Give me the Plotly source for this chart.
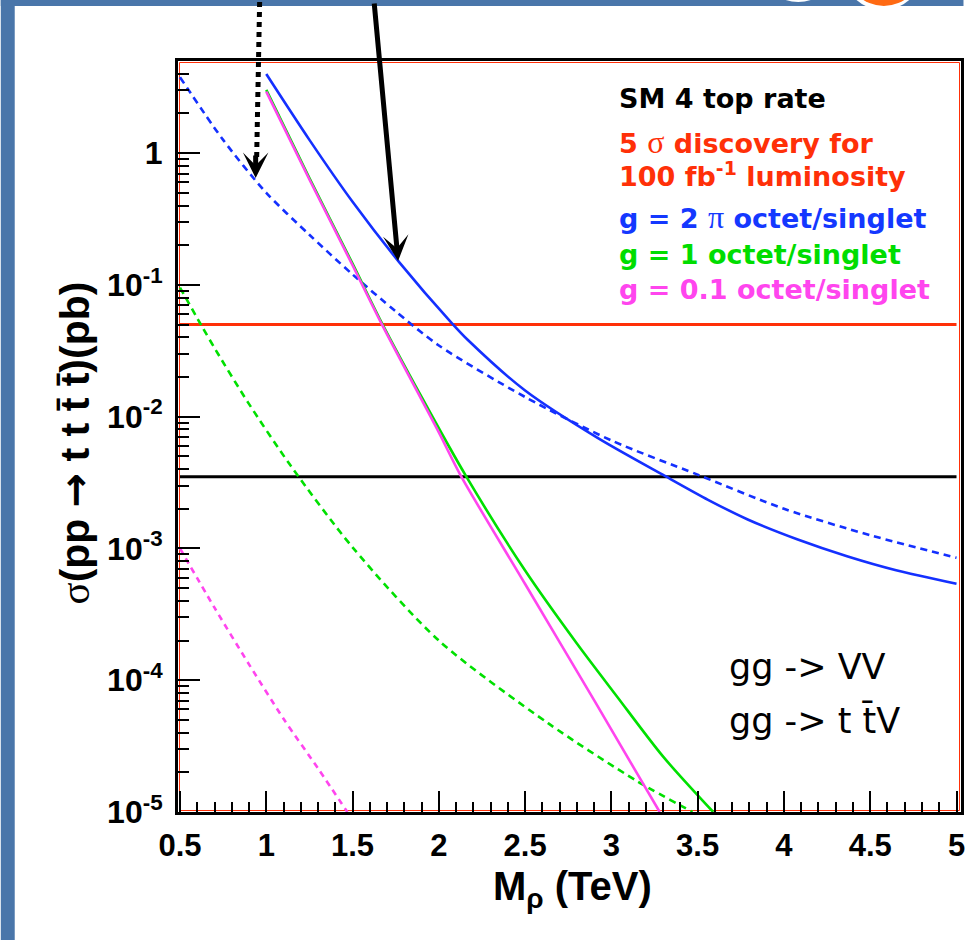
import plotly.graph_objects as go

# ---------------- data ----------------
# g = 2 pi, solid (gg -> VV)
m_blue_solid = [1.0, 1.25, 1.5, 1.77, 2.075, 2.17, 2.5, 2.92, 3.31, 3.56, 3.79, 4.08, 4.37, 4.65, 5.0]
s_blue_solid = [3.98, 1.26, 0.427, 0.149, 0.0513, 0.038, 0.0158, 0.0069, 0.00355, 0.00234, 0.00166,
                0.00117, 0.00087, 0.000684, 0.00054]
# g = 2 pi, dashed (gg -> t tbar V)
m_blue_dash = [0.5, 0.75, 1.0, 1.25, 1.5, 1.75, 2.0, 2.5, 3.0, 3.5, 4.0, 4.5, 5.0]
s_blue_dash = [3.77, 1.26, 0.50, 0.24, 0.12, 0.063, 0.0347, 0.0141, 0.0066, 0.00363, 0.002, 0.00126, 0.00085]
# g = 1, solid
m_green_solid = [1.0, 1.25, 1.5, 1.67, 1.9, 2.156, 2.5, 2.8, 3.03, 3.3, 3.59]
s_green_solid = [3.02, 0.646, 0.145, 0.0513, 0.0141, 0.00357, 6.8e-4, 1.9e-4, 7.6e-5, 2.63e-5, 1.0e-5]
# g = 1, dashed
m_green_dash = [0.5, 0.625, 0.71, 0.893, 1.14, 1.5, 2.0, 2.635, 3.154, 3.47]
s_green_dash = [0.0955, 0.049, 0.0316, 0.0129, 0.00427, 1.02e-3, 2.0e-4, 4.7e-5, 1.7e-5, 1.0e-5]
# g = 0.1, solid
m_pink_solid = [1.0, 1.25, 1.5, 1.67, 2.0, 2.127, 2.5, 2.904, 3.28]
s_pink_solid = [2.93, 0.631, 0.141, 0.0501, 0.00759, 0.00357, 5.37e-4, 6.9e-5, 1.0e-5]
# g = 0.1, dashed
m_pink_dash = [0.5, 0.7, 0.9, 1.1, 1.3, 1.47]
s_pink_dash = [1.0e-3, 3.55e-4, 1.32e-4, 5.1e-5, 2.14e-5, 1.0e-5]

# horizontal reference levels
m_levels = [0.5, 5.0]
discovery_level = 0.05      # 5 sigma discovery, 100 fb^-1
sm_four_top = 0.0035        # SM 4 top rate

x_tick_vals = [0.5, 1, 1.5, 2, 2.5, 3, 3.5, 4, 4.5, 5]
x_tick_text = ["0.5", "1", "1.5", "2", "2.5", "3", "3.5", "4", "4.5", "5"]
y_tick_vals = [1e-5, 1e-4, 1e-3, 1e-2, 1e-1, 1]
y_tick_text = ["10<sup>-5</sup>", "10<sup>-4</sup>", "10<sup>-3</sup>", "10<sup>-2</sup>",
               "10<sup>-1</sup>", "1"]
y_minor_vals = [k * 10.0 ** e for e in range(-5, 1) for k in range(2, 10)]

SERIF = "<span style=\"font-family:'Liberation Serif';font-weight:normal;font-size:32px\">{}</span>"
legend_lines = [
    ("SM 4 top rate", "#000000", 99),
    ("5 " + SERIF.format("σ") + " discovery for", "#ff3008", 142),
    ("100 fb<sup>-1</sup> luminosity", "#ff3008", 175),
    ("g = 2 " + SERIF.format("π") + " octet/singlet", "#1438ff", 217),
    ("g = 1 octet/singlet", "#00dd00", 254),
    ("g = 0.1 octet/singlet", "#ff45ee", 289),
]

BLUE = "#1430ff"
GREEN = "#00e000"
PINK = "#ff45ee"
RED = "#ff3008"

# ---------------- layout geometry ----------------
W, H = 967, 940
ML, MR, MT, MB = 178, 2.5, 61, 128
PW, PH = W - ML - MR, H - MT - MB


def px(xp):
    return (xp - ML) / PW


def py(yp):
    return (H - MB - yp) / PH


fig = go.Figure()

fig.add_trace(go.Scatter(x=m_levels, y=[discovery_level] * 2, mode="lines",
                         line=dict(color=RED, width=3), showlegend=False))
fig.add_trace(go.Scatter(x=m_levels, y=[sm_four_top] * 2, mode="lines",
                         line=dict(color="black", width=3), showlegend=False))

for xs, ys, col, dash in [
    (m_blue_dash, s_blue_dash, BLUE, "7px,5px"),
    (m_green_dash, s_green_dash, GREEN, "7px,5px"),
    (m_pink_dash, s_pink_dash, PINK, "6px,5px"),
    (m_blue_solid, s_blue_solid, BLUE, "solid"),
    (m_green_solid, s_green_solid, GREEN, "solid"),
    (m_pink_solid, s_pink_solid, PINK, "solid"),
]:
    fig.add_trace(go.Scatter(x=xs, y=ys, mode="lines",
                             line=dict(color=col, width=2.6, dash=dash, shape="spline", smoothing=0.8),
                             showlegend=False))

fig.update_xaxes(range=[0.4885, 5.026], showline=True, linecolor="black", linewidth=3, mirror=True,
                 ticks="inside", ticklen=21, tickwidth=2, tickcolor="black",
                 tickmode="array", tickvals=x_tick_vals, ticktext=x_tick_text,
                 tickfont=dict(family="Liberation Sans, Arial", size=31, color="black", weight="bold"),
                 ticklabelstandoff=4,
                 minor=dict(ticks="inside", ticklen=10, tickwidth=2, tickcolor="black", dtick=0.1, tick0=0.5),
                 showgrid=False, zeroline=False)
fig.update_yaxes(type="log", range=[-5, 0.699], showline=True, linecolor="black", linewidth=3, mirror=True,
                 ticks="inside", ticklen=22, tickwidth=2, tickcolor="black",
                 tickmode="array", tickvals=y_tick_vals, ticktext=y_tick_text,
                 tickfont=dict(family="Liberation Sans, Arial", size=32, color="black", weight="bold"),
                 ticklabelstandoff=6,
                 minor=dict(ticks="inside", ticklen=11, tickwidth=2, tickcolor="black",
                            tickmode="array", tickvals=y_minor_vals),
                 showgrid=False, zeroline=False)

shapes = [
    # slide background bands
    dict(type="rect", xref="paper", yref="paper", x0=px(0), x1=px(14), y0=py(H), y1=py(0),
         fillcolor="#4a76aa", line=dict(width=0), layer="above"),
    dict(type="rect", xref="paper", yref="paper", x0=px(0), x1=px(W), y0=py(6), y1=py(0),
         fillcolor="#4a76aa", line=dict(width=0), layer="above"),
    dict(type="circle", xref="paper", yref="paper", x0=px(846), x1=px(926), y0=py(10), y1=py(-70),
         fillcolor="white", line=dict(width=0), layer="above"),
    dict(type="circle", xref="paper", yref="paper", x0=px(849), x1=px(925), y0=py(6), y1=py(-70),
         fillcolor="#ff6a13", line=dict(width=0), layer="above"),
    dict(type="circle", xref="paper", yref="paper", x0=px(760), x1=px(842), y0=py(2), y1=py(-80),
         fillcolor="white", line=dict(width=0), layer="above"),
    # thin red frame inside the black one
    dict(type="rect", xref="paper", yref="paper", x0=px(ML + 1.5), x1=px(W - MR - 1.5),
         y0=py(H - MB - 1.5), y1=py(MT + 1.5), line=dict(color="#ff3008", width=1), layer="below"),
    # dotted arrow shaft
    dict(type="line", xref="paper", yref="paper", x0=px(260), x1=px(257), y0=py(2), y1=py(158),
         line=dict(color="black", width=5, dash="5px,5px"), layer="above"),
]
fig.update_layout(shapes=shapes)

ann = []
for txt, col, yc in legend_lines:
    ann.append(dict(text=txt, xref="paper", yref="paper", x=px(619), y=py(yc), xanchor="left",
                    yanchor="middle", showarrow=False,
                    font=dict(family="DejaVu Sans", size=27, color=col, weight="bold")))

ann.append(dict(text="gg -> VV", xref="paper", yref="paper", x=px(729), y=py(667), xanchor="left",
                yanchor="middle", showarrow=False, font=dict(family="DejaVu Sans", size=35, color="black")))
ann.append(dict(text="gg -> t t\u0304V", xref="paper", yref="paper", x=px(729), y=py(720), xanchor="left",
                yanchor="middle", showarrow=False, font=dict(family="DejaVu Sans", size=35, color="black")))

ann.append(dict(text="M<sub>ρ</sub> (TeV)", xref="paper", yref="paper", x=px(574), y=py(889),
                xanchor="center", yanchor="middle", showarrow=False,
                font=dict(family="Liberation Sans, Arial", size=40, color="black", weight="bold")))
ann.append(dict(text="<span style=\"font-family:'Liberation Serif';font-weight:normal\">σ</span>"
                     "(pp <span style=\"font-family:'DejaVu Sans'\">→</span> t t t\u0304 t\u0304)(pb)",
                xref="paper", yref="paper", x=px(75), y=py(443),
                xanchor="center", yanchor="middle", textangle=-90, showarrow=False,
                font=dict(family="Liberation Sans, Arial", size=41, color="black", weight="bold")))

# arrows
ann.append(dict(text="", x=1.764, y=-0.818, xref="x", yref="y", showarrow=True, ax=-24, ay=-259,
                arrowhead=3, arrowwidth=5, arrowsize=0.85, arrowcolor="black"))
ann.append(dict(text="", x=0.9385, y=-0.189, xref="x", yref="y", showarrow=True, ax=0, ay=-24,
                arrowhead=3, arrowwidth=5, arrowsize=0.85, arrowcolor="black"))

fig.update_layout(annotations=ann, width=W, height=H,
                  margin=dict(l=ML, r=MR, t=MT, b=MB, pad=0),
                  paper_bgcolor="white", plot_bgcolor="white", showlegend=False)

fig.write_html("out.html", config={"displayModeBar": False},
               post_script="document.body.style.margin='0';document.body.style.overflow='hidden';")
